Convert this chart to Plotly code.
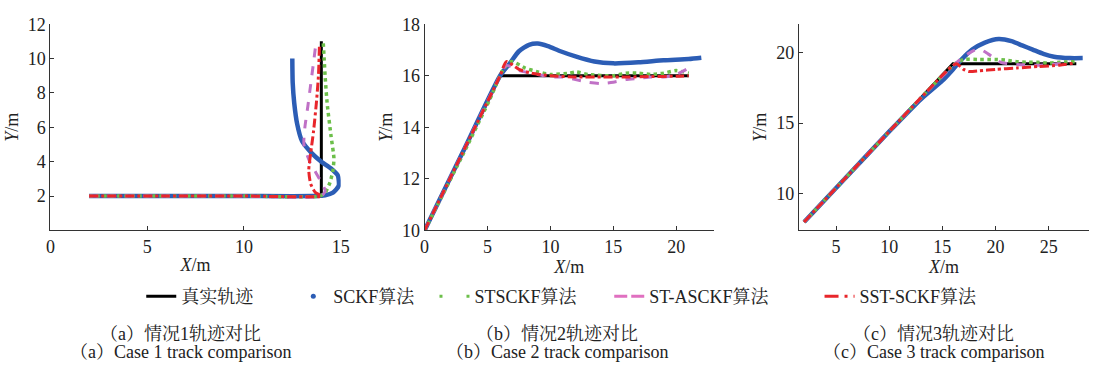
import plotly.graph_objects as go

# ---------------- Data ----------------
# Case 1
c1_true_x = [2, 14, 14]
c1_true_y = [2, 2, 11]
c1_sckf_x = [2, 6, 10, 13.5, 14.2, 14.6, 14.9, 14.85, 14.5, 14.0, 13.5, 13.0, 12.75, 12.6, 12.52, 12.5]
c1_sckf_y = [2, 2, 2, 2, 2.05, 2.2, 2.6, 3.2, 3.6, 4.0, 4.5, 5.2, 6.2, 7.4, 8.6, 10.0]
c1_st_x = [2, 6, 10, 13.9, 14.2, 14.45, 14.6, 14.65, 14.5, 14.3, 14.2, 14.15, 14.1]
c1_st_y = [2, 2, 2, 2, 2.2, 2.8, 3.5, 4.2, 5.5, 7.4, 8.9, 9.9, 10.9]
c1_stas_x = [2, 6, 10, 14.0, 14.2, 13.9, 13.4, 13.1, 13.15, 13.3, 13.45, 13.6, 13.7]
c1_stas_y = [2, 2, 2, 2, 2.3, 3.0, 4.0, 5.0, 6.0, 7.2, 8.5, 9.8, 10.7]
c1_sst_x = [2, 6, 10, 14.0, 13.7, 13.45, 13.35, 13.45, 13.6, 13.75, 13.85, 13.9]
c1_sst_y = [2, 2, 2, 2, 2.2, 2.7, 3.5, 4.5, 5.8, 7.5, 9.0, 10.7]

# Case 2
c2_true_x = [0, 6, 21]
c2_true_y = [10, 16, 16]
c2_sckf_x = [0, 3, 6, 6.8, 7.5, 8.3, 9.0, 9.8, 10.8, 12.0, 13.5, 15.0, 17.0, 19.0, 21.0, 22.0]
c2_sckf_y = [10, 13, 16, 16.5, 16.95, 17.2, 17.25, 17.15, 16.95, 16.75, 16.55, 16.48, 16.52, 16.6, 16.65, 16.7]
c2_st_x = [0, 3, 5.2, 6.2, 6.9, 8.0, 9.0, 10.0, 11.5, 12.0, 13.0, 15.0, 16.0, 17.0, 18.0, 19.0, 20.0, 21.0]
c2_st_y = [10, 12.9, 15.1, 16.2, 16.55, 16.3, 16.15, 16.05, 16.1, 16.15, 16.05, 16.0, 16.1, 16.1, 16.05, 16.1, 16.2, 16.1]
c2_stas_x = [0, 3, 6.0, 6.5, 7.5, 9.0, 10.0, 11.0, 12.0, 13.0, 14.0, 15.0, 16.0, 17.0, 18.0, 19.0, 20.0, 21.0]
c2_stas_y = [10, 13, 16.0, 16.4, 16.2, 16.05, 15.95, 15.95, 15.85, 15.75, 15.7, 15.75, 15.85, 15.9, 15.95, 15.95, 16.05, 16.3]
c2_sst_x = [0, 3, 6.0, 6.5, 7.5, 8.5, 10.0, 12.0, 14.0, 16.0, 18.0, 20.0, 21.0]
c2_sst_y = [10, 13, 16.0, 16.55, 16.25, 16.1, 16.0, 15.95, 15.95, 15.95, 15.97, 15.98, 16.0]

# Case 3
c3_true_x = [2, 16, 27.6]
c3_true_y = [8, 19.2, 19.2]
c3_sckf_x = [2, 6, 10, 13, 15, 16, 16.8, 17.8, 19, 20.3, 21.5, 22.5, 23.5, 24.5, 25.5, 27, 28.2]
c3_sckf_y = [8, 11.2, 14.4, 16.7, 18.0, 18.8, 19.5, 20.2, 20.7, 20.95, 20.8, 20.5, 20.2, 19.9, 19.7, 19.6, 19.6]
c3_st_x = [2, 6, 10, 13, 16.2, 17, 18.5, 20, 21, 22, 23, 24, 25, 26, 27.5]
c3_st_y = [8, 11.2, 14.4, 16.8, 19.2, 19.5, 19.5, 19.5, 19.45, 19.35, 19.3, 19.3, 19.25, 19.3, 19.35]
c3_stas_x = [2, 6, 10, 13, 16.2, 17, 18.0, 18.6, 19.3, 20.5, 22, 24, 26, 27]
c3_stas_y = [8, 11.2, 14.4, 16.8, 19.2, 19.7, 20.15, 20.2, 19.9, 19.3, 19.15, 19.1, 19.2, 19.4]
c3_sst_x = [2, 6, 10, 13, 16.3, 17, 17.5, 18.5, 20, 22, 24, 26, 27.5]
c3_sst_y = [8, 11.2, 14.4, 16.8, 19.2, 18.8, 18.65, 18.7, 18.8, 18.9, 19.0, 19.1, 19.25]

names = ["真实轨迹", "SCKF算法", "STSCKF算法", "ST-ASCKF算法", "SST-SCKF算法"]
captions_cn = ["（a）情况1轨迹对比", "（b）情况2轨迹对比", "（c）情况3轨迹对比"]
captions_en = ["（a）Case 1 track comparison", "（b）Case 2 track comparison", "（c）Case 3 track comparison"]

# ---------------- Styles ----------------
BLACK = "#000000"
BLUE = "#2c5db5"
GREEN = "#6cbf4a"
PURPLE = "#c071c6"
PINK = "#e070c0"
RED = "#e8262b"
FONT = "Liberation Serif, Noto Serif CJK SC, Noto Sans CJK SC, serif"
TXT = "#222222"

styles = [
    dict(color=BLACK, width=3, dash="solid"),
    dict(color=BLUE, width=4.5, dash="solid"),
    dict(color=GREEN, width=3.5, dash="dot"),
    dict(color=PURPLE, width=3, dash="dash"),
    dict(color=RED, width=3, dash="dashdot"),
]

cases = [
    [(c1_true_x, c1_true_y), (c1_sckf_x, c1_sckf_y), (c1_st_x, c1_st_y), (c1_stas_x, c1_stas_y), (c1_sst_x, c1_sst_y)],
    [(c2_true_x, c2_true_y), (c2_sckf_x, c2_sckf_y), (c2_st_x, c2_st_y), (c2_stas_x, c2_stas_y), (c2_sst_x, c2_sst_y)],
    [(c3_true_x, c3_true_y), (c3_sckf_x, c3_sckf_y), (c3_st_x, c3_st_y), (c3_stas_x, c3_stas_y), (c3_sst_x, c3_sst_y)],
]

fig = go.Figure()
axis_ids = [("x", "y"), ("x2", "y2"), ("x3", "y3")]
for (xa, ya), series in zip(axis_ids, cases):
    for i, (sx, sy) in enumerate(series):
        shape = "linear" if i == 0 else "spline"
        fig.add_trace(go.Scatter(x=sx, y=sy, mode="lines", line=dict(shape=shape, smoothing=0.6, **styles[i]),
                                 xaxis=xa, yaxis=ya, showlegend=False, hoverinfo="skip"))

# Legend entries, each in its own legend so they can be placed like the reference
legend_traces = [
    dict(mode="lines", line=dict(color=BLACK, width=3)),
    dict(mode="markers", marker=dict(color=BLUE, size=5)),
    dict(mode="lines", line=dict(color=GREEN, width=3, dash="3px,24px")),
    dict(mode="lines", line=dict(color=PINK, width=3, dash="13px,4px,13px,40px")),
    dict(mode="lines", line=dict(color=RED, width=3, dash="14px,6px,3px,6px,3px,40px")),
]
legend_names = ["legend", "legend2", "legend3", "legend4", "legend5"]
for nm, lt, lg in zip(names, legend_traces, legend_names):
    fig.add_trace(go.Scatter(x=[None], y=[None], name=nm, legend=lg, **lt))

# text start positions (px) of each legend entry
legend_text_px = [178, 332, 475, 652, 865]
LEG_OFFSET = 40
legend_layout = {}
for lg, tx in zip(legend_names, legend_text_px):
    legend_layout[lg] = dict(orientation="h", x=(tx - LEG_OFFSET) / 1104, xanchor="left",
                             y=1 - 303 / 370, yanchor="middle",
                             font=dict(family=FONT, size=18, color=TXT), itemwidth=30,
                             bgcolor="rgba(0,0,0,0)", borderwidth=0)

ydom = [1 - 233 / 370, 1 - 15 / 370]
common_ax = dict(showline=True, linecolor="#333333", linewidth=1, ticks="inside", ticklen=4,
                 tickcolor="#333333", showgrid=False, zeroline=False, mirror=False,
                 tickfont=dict(family=FONT, size=18, color=TXT))
xtitle = dict(text="<i>X</i>/m", font=dict(family=FONT, size=18, color=TXT), standoff=2)
ytitle = dict(text="<i>Y</i>/m", font=dict(family=FONT, size=18, color=TXT), standoff=4)

fig.update_layout(
    width=1104, height=370,
    margin=dict(l=0, r=0, t=0, b=0),
    paper_bgcolor="white", plot_bgcolor="white",
    font=dict(family=FONT),
    xaxis=dict(domain=[46 / 1104, 340 / 1104], range=[0, 15], tickvals=[0, 5, 10, 15], title=xtitle, anchor="y", **common_ax),
    yaxis=dict(domain=ydom, range=[0, 12], tickvals=[2, 4, 6, 8, 10, 12], title=ytitle, anchor="x", **common_ax),
    xaxis2=dict(domain=[425 / 1104, 718 / 1104], range=[0, 23], tickvals=[0, 5, 10, 15, 20], title=xtitle, anchor="y2", **common_ax),
    yaxis2=dict(domain=ydom, range=[10, 18], tickvals=[10, 12, 14, 16, 18], title=ytitle, anchor="x2", **common_ax),
    xaxis3=dict(domain=[804 / 1104, 1098 / 1104], range=[1.5, 28.8], tickvals=[5, 10, 15, 20, 25], title=xtitle, anchor="y3", **common_ax),
    yaxis3=dict(domain=ydom, range=[7.4, 22], tickvals=[10, 15, 20], title=ytitle, anchor="x3", **common_ax),
    **legend_layout,
)

centers = [178 / 1104, 559 / 1104, 940 / 1104]
for cx, cn, en in zip(centers, captions_cn, captions_en):
    fig.add_annotation(x=cx, y=1 - 342 / 370, xref="paper", yref="paper", text=cn, showarrow=False,
                       font=dict(family=FONT, size=18, color=TXT), xanchor="center", yanchor="middle")
    fig.add_annotation(x=cx, y=1 - 362 / 370, xref="paper", yref="paper", text=en, showarrow=False,
                       font=dict(family=FONT, size=18, color=TXT), xanchor="center", yanchor="middle")

fig.write_html("out.html")
